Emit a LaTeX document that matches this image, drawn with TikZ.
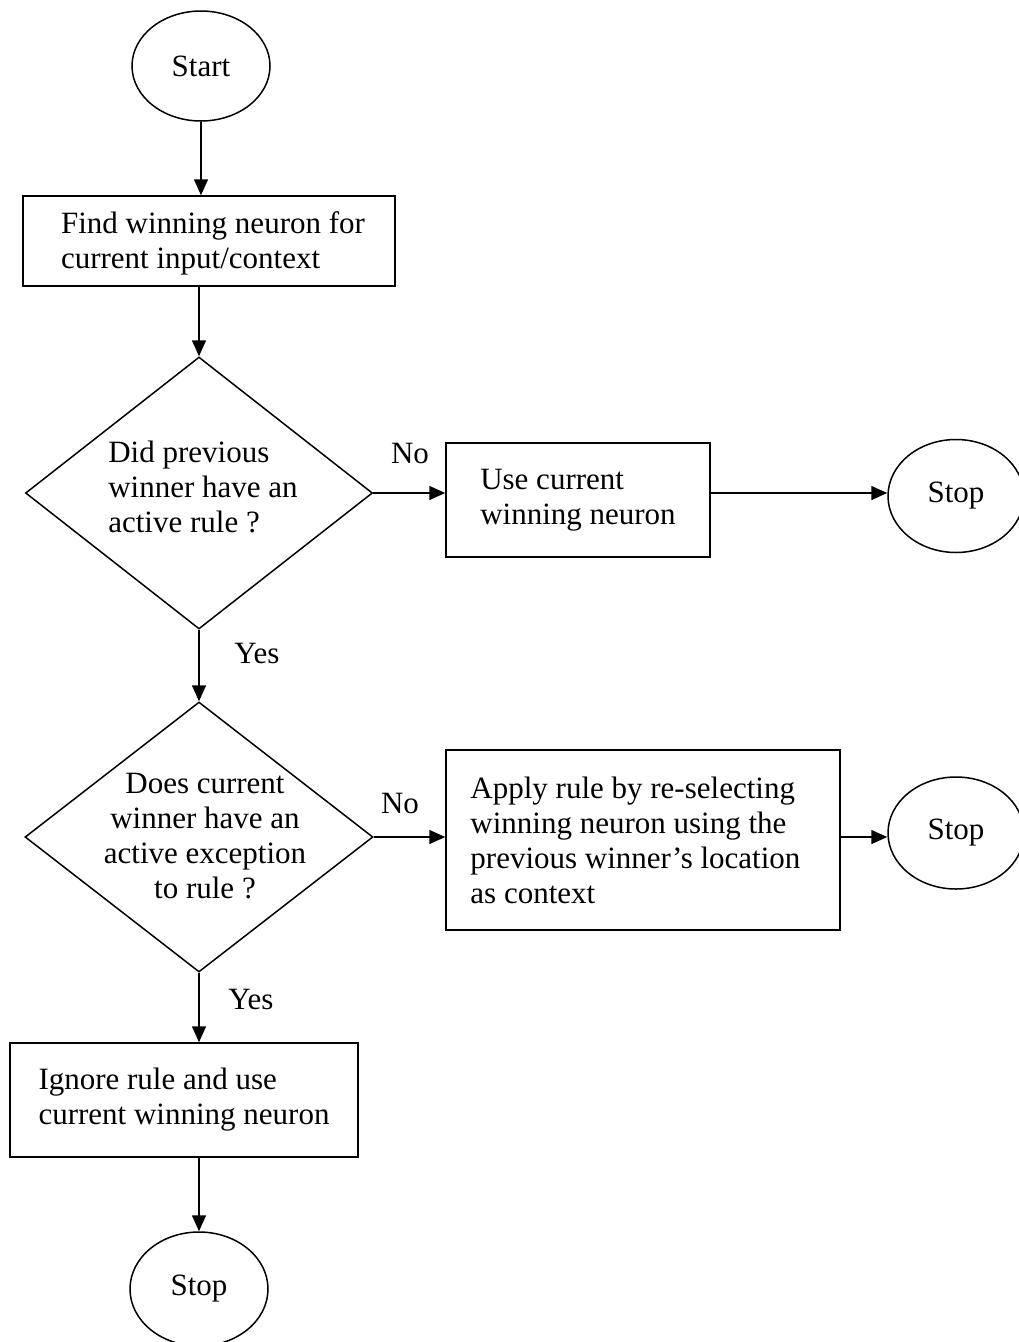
\documentclass[tikz,border=0pt]{standalone}
\usepackage{fontspec}
\setmainfont{Liberation Serif}
\usetikzlibrary{shapes.geometric,arrows.meta}
\begin{document}
\begin{tikzpicture}[x=1pt,y=-1pt,
  every node/.style={font=\fontsize{31}{35}\selectfont},
  line/.style={line width=1.5pt},
  arr/.style={line, -{Triangle[length=16pt,width=14pt]}},
  terminal/.style={ellipse, draw, line, minimum width=138pt, minimum height=110pt, inner sep=0pt},
  procbox/.style={rectangle, draw, line, align=left, inner sep=0pt},
  decision/.style={diamond, draw, line, inner sep=0pt},
  lbl/.style={anchor=base, inner sep=0pt}]
\useasboundingbox (0,0) rectangle (1019,1342);
\clip (0,0) rectangle (1019,1342);

% terminals
\node[terminal] (start) at (201,66) {Start};
\node[terminal, minimum height=113pt, minimum width=136pt] (stopA) at (956,496) {Stop};
\node[terminal, minimum height=112pt, minimum width=136pt] (stopB) at (956,833) {Stop};
\node[terminal, minimum height=114pt] (stopC) at (199,1289) {Stop};

% process boxes
\node[procbox, minimum width=372pt, minimum height=90pt] (find) at (209,241) {};
\node[align=left] (findtxt) at (213,243)
  {Find winning neuron for\\current input/context};
\node[procbox, minimum width=264pt, minimum height=114pt] (usecur) at (578,500)
  {Use current\\winning neuron};
\node[procbox, minimum width=394pt, minimum height=180pt] (apply) at (643,840) {};
\node[align=left, anchor=west, inner sep=0pt] (applytxt) at ([xshift=25pt]apply.west)
  {Apply rule by re-selecting\\winning neuron using the\\previous winner's location\\as context};
\node[procbox, minimum width=348pt, minimum height=114pt] (ignore) at (184,1100)
  {Ignore rule and use\\current winning neuron};

% decisions
\node[decision, minimum width=347pt, minimum height=272pt] (qrule) at (199,493) {};
\node[align=left] (qruletxt) at (203,487)
  {Did previous\\winner have an\\active rule ?};
\node[decision, minimum width=348pt, minimum height=270pt] (qexc) at (199,837) {};
\node[align=center] (qexctxt) at (205,836)
  {Does current\\winner have an\\active exception\\to rule ?};

% connectors
\draw[arr] (start.south) -- (start.south |- find.north);
\draw[arr] (qrule.north |- find.south) -- (qrule.north);
\draw[arr] (qrule.east) -- (qrule.east -| usecur.west);
\draw[arr] (usecur.east |- qrule.east) -- (stopA.west |- qrule.east);
\draw[arr] (qrule.south) -- (qexc.north);
\draw[arr] (qexc.east) -- (qexc.east -| apply.west);
\draw[arr] (apply.east |- qexc.east) -- (stopB.west |- qexc.east);
\draw[arr] (qexc.south) -- (qexc.south |- ignore.north);
\draw[arr] (qexc.south |- ignore.south) -- (stopC.north);

% branch labels
\node[lbl] (no1) at (410,463) {No};
\node[lbl] (yes1) at (257,663) {Yes};
\node[lbl] (no2) at (400,813) {No};
\node[lbl] (yes2) at (251,1009) {Yes};
\end{tikzpicture}
\end{document}
